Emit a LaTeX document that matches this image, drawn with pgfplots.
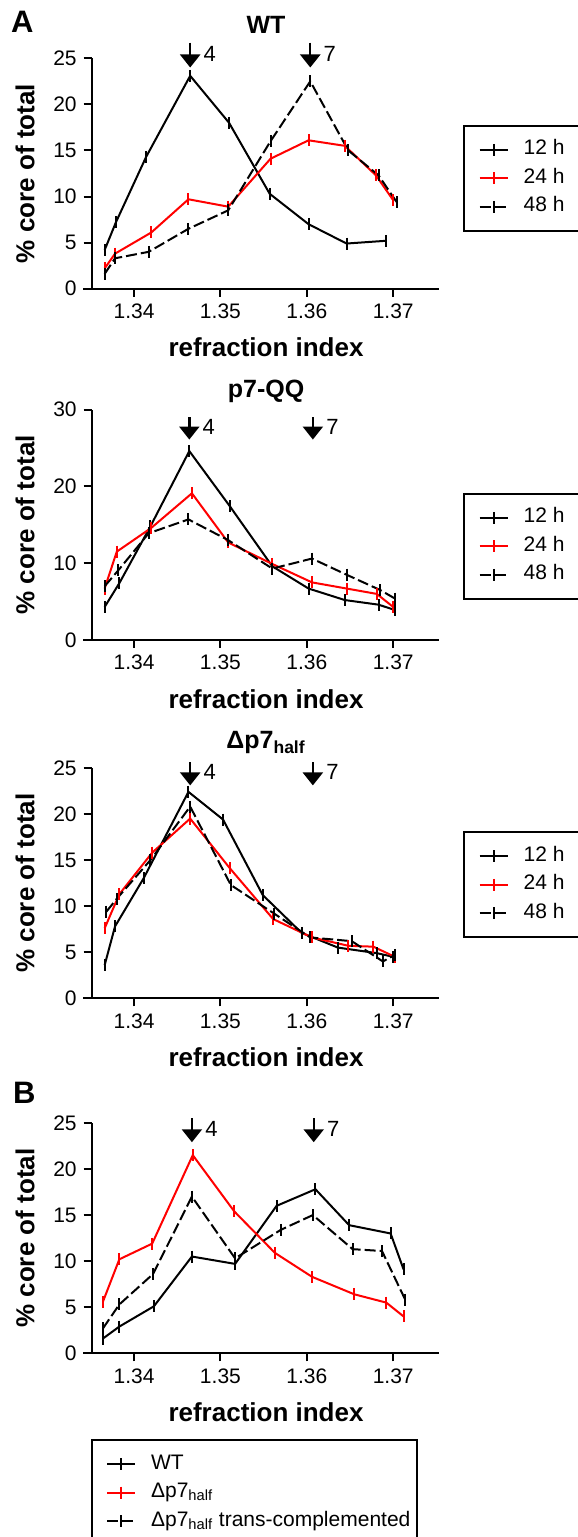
\documentclass[border=0pt]{standalone}
\usepackage{fontspec}
\setmainfont{Liberation Sans}
\setsansfont{Liberation Sans}
\usepackage{pgfplots}
\pgfplotsset{compat=1.18}
\usetikzlibrary{arrows.meta}

\pgfplotsset{
  panel/.style={
    scale only axis, width=173.65pt, height=115.2pt,
    xmin=1.3351, xmax=1.3753, ymin=0,
    clip=false,
    axis lines=left, axis line style={-, line width=1pt},
    x axis line style={shorten <=-4.3pt},
    tick align=outside, major tick length=4pt,
    tick style={line width=1pt, black},
    xtick={1.34,1.35,1.36,1.37}, xticklabels={1.34,1.35,1.36,1.37},
    tick label style={font=\fontsize{10.5}{12}\selectfont},
    /pgf/number format/assume math mode=true,
    xlabel={refraction index}, ylabel={\% core of total},
    label style={font=\fontsize{13}{15}\selectfont\bfseries},
    ylabel style={at={(axis description cs:-0.192,0.5)}, anchor=center},
    xlabel style={at={(axis description cs:0.502,-0.255)}, anchor=center},
    legend image code/.code={\draw[mark repeat=2,mark phase=2,##1] plot coordinates {(0pt,0pt) (7pt,0pt) (14pt,0pt)};},
    legend style={draw=black, line width=1pt, font=\fontsize{10.5}{12}\selectfont,
      inner xsep=7.2pt, inner ysep=7.5pt, row sep=5.25pt, column sep=7.5pt,
      nodes={inner sep=0pt, text height=7pt, text depth=2pt, anchor=west},
      cells={anchor=west}},
  },
  s1/.style={black, line width=1pt, mark=|, mark size=3pt, mark options={solid}},
  s2/.style={red, line width=1pt, mark=|, mark size=3pt, mark options={solid}},
  s3/.style={black, line width=1pt, dash pattern=on 5.5pt off 2pt, mark=|, mark size=3pt, mark options={solid}},
}
\newcommand{\peak}[5]{%
  \draw[line width=1.2pt,-{Triangle[width=10pt,length=6.5pt]}] (axis cs:#1,#2) -- (axis cs:#1,#3);
  \node[anchor=west,inner sep=0pt,font=\fontsize{11}{13}\selectfont] at ([xshift=6.5pt]axis cs:#1,#4) {#5};}

\begin{document}
\begin{tikzpicture}
\useasboundingbox (0,0) rectangle (289pt,768.5pt);

\node[anchor=base west,inner sep=0pt,font=\fontsize{15.5}{18}\selectfont\bfseries] at (5.35pt,752.35pt) {A};
\node[anchor=base west,inner sep=0pt,font=\fontsize{15.5}{18}\selectfont\bfseries] at (6.35pt,216.85pt) {B};

% WT
\begin{axis}[panel, at={(45.85pt,624.15pt)}, anchor=south west,
  ymax=25, ytick={0,5,10,15,20,25},
  legend style={at={(axis description cs:1.070,0.7105)}, anchor=north west}]
\addplot[s1] coordinates {(1.3366,4.2)(1.3379,7.2)(1.3414,14.3)(1.3465,23.1)(1.3510,18.0)(1.3557,10.3)(1.3602,7.0)(1.3646,4.9)(1.3692,5.2)};
\addplot[s2] coordinates {(1.3366,2.2)(1.3378,3.8)(1.3420,6.1)(1.3463,9.7)(1.3509,8.9)(1.3558,14.1)(1.3602,16.1)(1.3644,15.5)(1.3680,12.3)(1.3700,9.6)};
\addplot[s3] coordinates {(1.3366,1.6)(1.3378,3.3)(1.3417,4.0)(1.3463,6.5)(1.3509,8.5)(1.3558,16.0)(1.3604,22.5)(1.3648,15.0)(1.3683,12.3)(1.3704,9.4)};
\legend{\makebox[40pt][l]{12 h},\makebox[40pt][l]{24 h},\makebox[40pt][l]{48 h}}
\node[anchor=base,font=\fontsize{12.5}{15}\selectfont\bfseries] at (axis description cs:0.502,1.1085) {WT};
\peak{1.3465}{26.7}{24.0}{25.5}{4}
\peak{1.3604}{26.7}{24.0}{25.5}{7}
\end{axis}

% p7-QQ
\begin{axis}[panel, at={(45.85pt,448.5pt)}, anchor=south west,
  ymax=30, ytick={0,10,20,30},
  legend style={at={(axis description cs:1.070,0.639)}, anchor=north west}]
\addplot[s1] coordinates {(1.3366,4.3)(1.3383,7.4)(1.3419,14.8)(1.3464,24.6)(1.3511,17.4)(1.3560,9.6)(1.3602,6.7)(1.3644,5.2)(1.3683,4.6)(1.3702,3.9)};
\addplot[s2] coordinates {(1.3366,6.7)(1.3380,11.5)(1.3420,14.6)(1.3467,19.1)(1.3509,12.7)(1.3560,9.9)(1.3606,7.5)(1.3646,6.7)(1.3681,6.0)(1.3700,4.3)};
\addplot[s3] coordinates {(1.3366,7.0)(1.3382,9.1)(1.3417,13.9)(1.3463,15.7)(1.3509,13.0)(1.3560,9.3)(1.3606,10.6)(1.3646,8.5)(1.3685,6.5)(1.3702,5.4)};
\legend{\makebox[40pt][l]{12 h},\makebox[40pt][l]{24 h},\makebox[40pt][l]{48 h}}
\node[anchor=base,font=\fontsize{12.5}{15}\selectfont\bfseries] at (axis description cs:0.502,1.051) {p7-QQ};
\peak{1.3464}{29.0}{26.1}{27.8}{4}
\peak{1.3607}{29.0}{26.1}{27.8}{7}
\end{axis}

% Delta p7 half
\begin{axis}[panel, at={(45.85pt,269.35pt)}, anchor=south west,
  ymax=25, ytick={0,5,10,15,20,25},
  legend style={at={(axis description cs:1.070,0.725)}, anchor=north west}]
\addplot[s1] coordinates {(1.3366,3.6)(1.3378,7.8)(1.3411,13.0)(1.3463,22.4)(1.3503,19.4)(1.3549,11.2)(1.3594,7.1)(1.3636,5.5)(1.3681,4.9)(1.3700,4.5)};
\addplot[s2] coordinates {(1.3366,7.6)(1.3383,11.3)(1.3421,15.8)(1.3465,19.5)(1.3511,14.1)(1.3561,8.6)(1.3606,6.6)(1.3648,5.7)(1.3677,5.6)(1.3702,4.5)};
\addplot[s3] coordinates {(1.3368,9.4)(1.3380,10.8)(1.3419,15.0)(1.3465,20.8)(1.3512,12.3)(1.3562,9.2)(1.3604,6.6)(1.3652,6.2)(1.3688,4.0)(1.3702,4.7)};
\legend{\makebox[40pt][l]{12 h},\makebox[40pt][l]{24 h},\makebox[40pt][l]{48 h}}
\node[anchor=base,font=\fontsize{12.5}{15}\selectfont\bfseries] at (axis description cs:0.502,1.083) {Δp7\textsubscript{half}};
\peak{1.3465}{25.6}{23.1}{24.6}{4}
\peak{1.3607}{25.6}{23.1}{24.6}{7}
\end{axis}

% B
\begin{axis}[panel, at={(45.85pt,91.85pt)}, anchor=south west,
  ymax=25, ytick={0,5,10,15,20,25},
  legend style={at={(axis description cs:-0.003,-0.372)}, anchor=north west}]
\addplot[s1] coordinates {(1.3364,1.6)(1.3383,2.9)(1.3423,5.1)(1.3467,10.5)(1.3517,9.7)(1.3565,16.0)(1.3610,17.8)(1.3649,13.9)(1.3697,13.0)(1.3712,9.1)};
\addplot[s2] coordinates {(1.3364,5.6)(1.3383,10.2)(1.3421,11.9)(1.3468,21.5)(1.3516,15.4)(1.3563,10.9)(1.3606,8.3)(1.3655,6.4)(1.3692,5.5)(1.3712,4.0)};
\addplot[s3] coordinates {(1.3364,2.7)(1.3383,5.3)(1.3422,8.6)(1.3467,17.0)(1.3517,10.3)(1.3570,13.4)(1.3607,15.0)(1.3653,11.3)(1.3687,11.1)(1.3714,5.8)};
\legend{\makebox[126pt][l]{WT},\makebox[126pt][l]{Δp7\textsubscript{half}},\makebox[126pt][l]{Δp7\textsubscript{half} trans-complemented}}
\peak{1.3467}{25.5}{22.9}{24.3}{4}
\peak{1.3608}{25.5}{22.9}{24.3}{7}
\end{axis}
\end{tikzpicture}
\end{document}
